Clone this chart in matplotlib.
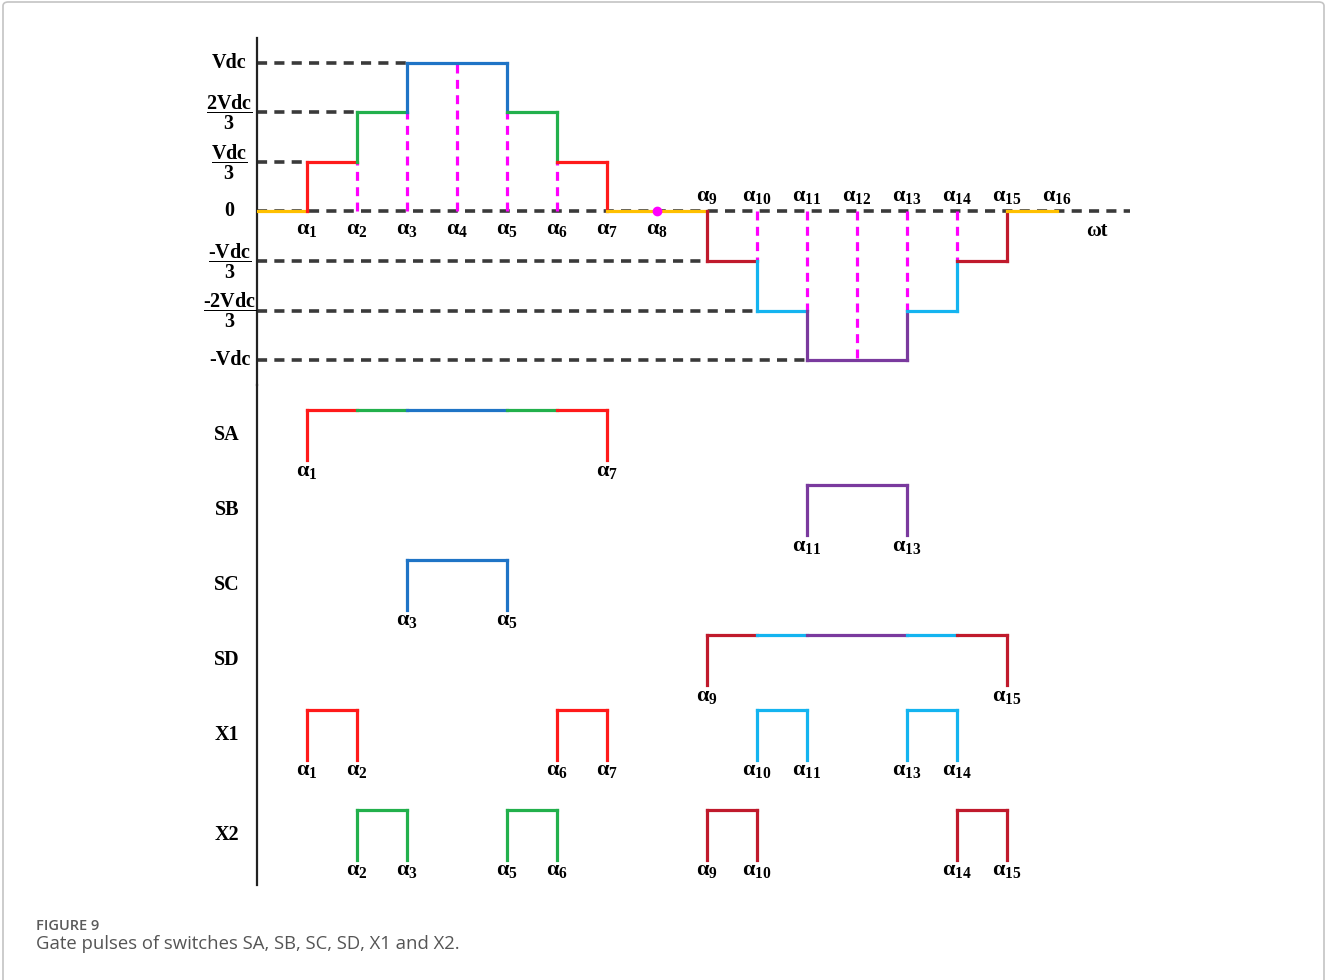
import matplotlib
matplotlib.use('Agg')
import matplotlib.pyplot as plt
from matplotlib.patches import FancyBboxPatch

plt.rcParams['font.family'] = ['Liberation Serif', 'DejaVu Serif']
plt.rcParams['mathtext.fontset'] = 'custom'
plt.rcParams['mathtext.rm'] = 'Liberation Serif:bold'
plt.rcParams['mathtext.it'] = 'Liberation Serif:bold'
plt.rcParams['mathtext.bf'] = 'Liberation Serif:bold'

# output voltage staircase, one entry per step (level in units of Vdc/3)
step_start = [0, 1, 2, 3, 5, 6, 7, 9, 10, 11, 13, 14, 15]
step_end = [1, 2, 3, 5, 6, 7, 9, 10, 11, 13, 14, 15, 16]
step_level = [0, 1, 2, 3, 2, 1, 0, -1, -2, -3, -2, -1, 0]

level_values = [3, 2, 1, 0, -1, -2, -3]
level_labels = ['Vdc', r'$\dfrac{2Vdc}{3}$', r'$\dfrac{Vdc}{3}$', '0',
                r'$\dfrac{\text{-}Vdc}{3}$', r'$\dfrac{\text{-}2Vdc}{3}$', '-Vdc']

alphas = list(range(1, 17))
alpha_mark = 8

# gate signals: on-intervals given as (alpha start, alpha end)
switches = ['SA', 'SB', 'SC', 'SD', 'X1', 'X2']
pulses = [
    [(1, 7)],
    [(11, 13)],
    [(3, 5)],
    [(9, 15)],
    [(1, 2), (6, 7), (10, 11), (13, 14)],
    [(2, 3), (5, 6), (9, 10), (14, 15)],
]

# colours per voltage level
level_color = {0: '#ffc000', 1: '#ff1a1a', 2: '#22b04c', 3: '#1f74c6',
               -1: '#c01a2c', -2: '#14b4f0', -3: '#7a3a9e'}
DASH = '#3a3a3a'
MAGENTA = '#ff00ff'
LW = 2.3

# bottom of each pulse row in the lower panel
row_base = [8.5, 7.0, 5.5, 4.0, 2.5, 0.5]


def level_at(x):
    for s, e, lv in zip(step_start, step_end, step_level):
        if s <= x < e:
            return lv
    return 0


W, H = 1327, 980


def box(l, t, r, b):
    return [l / W, 1 - b / H, (r - l) / W, (b - t) / H]


fig = plt.figure(figsize=(W / 100, H / 100), dpi=100)
fig.patches.append(FancyBboxPatch((3 / W, -0.05), (W - 6) / W, 1.05 - 2 / H,
                                  boxstyle='round,pad=0,rounding_size=0.004',
                                  transform=fig.transFigure, fill=False,
                                  edgecolor='#c4c4c4', lw=1.2))

ax = fig.add_axes(box(257, 38, 1132, 385))
axp = fig.add_axes(box(257, 385, 1132, 885))
for a in (ax, axp):
    a.set_xlim(0, 17.5)
    for side in ('top', 'right', 'bottom'):
        a.spines[side].set_visible(False)
    a.spines['left'].set_linewidth(1.6)
    a.spines['left'].set_color('#222222')
    a.set_xticks([])
    a.set_yticks([])
    a.patch.set_alpha(0)
ax.set_ylim(-3.505, 3.505)
axp.set_ylim(0, 10)

dash_kw = dict(color=DASH, lw=2.6, dashes=(2.8, 2.0), zorder=1)

# reference levels: dashed from the axis up to the first step that reaches them
ax.plot([0, 17.45], [0, 0], **dash_kw)
for lv in level_values:
    if lv == 0:
        continue
    first = min(s for s, l in zip(step_start, step_level) if l == lv)
    ax.plot([0, first], [lv, lv], **dash_kw)

# level labels
for lv, lab in zip(level_values, level_labels):
    ax.text(-0.55, lv, lab, ha='center', va='center', fontsize=14.5,
            fontweight='bold')

# magenta guides at the interior switching angles
for k in alphas:
    left, right = level_at(k - 0.5), level_at(k + 0.5)
    if left != 0 and right != 0:
        h = left if abs(left) < abs(right) else right
        ax.plot([k, k], [0, h], color=MAGENTA, lw=2.3, dashes=(2.8, 2.0),
                zorder=2)

# staircase waveform
n = len(step_level)
for i in range(n):
    lv, c = step_level[i], level_color[step_level[i]]
    ax.plot([step_start[i], step_end[i]], [lv, lv], color=c, lw=LW,
            solid_capstyle='projecting', zorder=3)
    if i > 0 and abs(lv) > abs(step_level[i - 1]):
        ax.plot([step_start[i]] * 2, [step_level[i - 1], lv], color=c, lw=LW,
                solid_capstyle='projecting', zorder=3)
    if i < n - 1 and abs(lv) > abs(step_level[i + 1]):
        ax.plot([step_end[i]] * 2, [step_level[i + 1], lv], color=c, lw=LW,
                solid_capstyle='projecting', zorder=3)

ax.plot([alpha_mark], [0], 'o', color=MAGENTA, ms=6, zorder=4)

for k in alphas:
    y = -0.36 if k <= 8 else 0.3
    ax.text(k, y, r'$\alpha_{%d}$' % k, ha='center', va='center', fontsize=16)
ax.text(16.8, -0.4, 'ωt', ha='center', va='center', fontsize=14.5,
        fontweight='bold')

# gate pulse rows
for name, on, base in zip(switches, pulses, row_base):
    axp.text(-0.6, base + 0.5, name, ha='center', va='center', fontsize=14.5,
             fontweight='bold')
    for a0, a1 in on:
        top = base + 1
        c0, c1 = level_color[level_at(a0 + 0.5)], level_color[level_at(a1 - 0.5)]
        axp.plot([a0, a0], [base, top], color=c0, lw=LW,
                 solid_capstyle='projecting', zorder=3)
        axp.plot([a1, a1], [base, top], color=c1, lw=LW,
                 solid_capstyle='projecting', zorder=3)
        for s, e, lv in zip(step_start, step_end, step_level):
            lo, hi = max(s, a0), min(e, a1)
            if hi > lo:
                axp.plot([lo, hi], [top, top], color=level_color[lv], lw=LW,
                         solid_capstyle='projecting', zorder=3)
        for k in (a0, a1):
            axp.text(k, base - 0.22, r'$\alpha_{%d}$' % k, ha='center',
                     va='center', fontsize=16)

fig.text(36 / W, 1 - 926 / H, 'FIGURE 9', family='Open Sans',
         fontweight='semibold', fontsize=10.5, color='#5a5a5a',
         ha='left', va='center')
fig.text(36 / W, 1 - 944 / H, 'Gate pulses of switches SA, SB, SC, SD, X1 and X2.',
         family='Open Sans', fontsize=13.3, color='#555555',
         ha='left', va='center')

fig.savefig('out.png', dpi=100)
